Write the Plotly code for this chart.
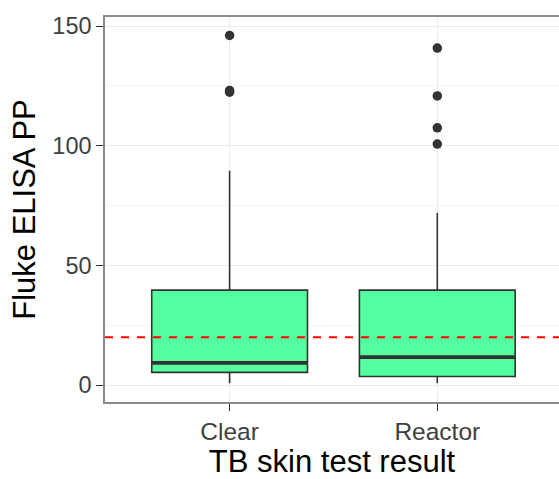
import plotly.graph_objects as go

# ---- data ----
categories = ["Clear", "Reactor"]
positions = [1, 2]
q1 = [5.3, 3.6]
median = [9.3, 11.7]
q3 = [39.7, 39.7]
lower_whisker = [0.8, 0.8]
upper_whisker = [89.6, 71.9]
outliers_clear = [146.1, 123.1, 122.4]
outliers_reactor = [140.8, 120.8, 107.5, 100.7]
threshold = 20
y_ticks = [0, 50, 100, 150]
y_minor = [25, 75, 125]

box_width = 0.75
fill = "#54FF9F"
dark = "#333333"

fig = go.Figure()

fig.add_trace(go.Box(
    x=positions, q1=q1, median=median, q3=q3,
    lowerfence=lower_whisker, upperfence=upper_whisker,
    width=box_width, whiskerwidth=0, boxpoints=False,
    fillcolor=fill, line=dict(color=dark, width=1.6),
    showlegend=False, hoverinfo="skip",
))

# thick median lines (ggplot style)
for p, m in zip(positions, median):
    fig.add_trace(go.Scatter(
        x=[p - box_width / 2, p + box_width / 2], y=[m, m],
        mode="lines", line=dict(color=dark, width=3.6),
        showlegend=False, hoverinfo="skip",
    ))

# outliers
for p, outs in zip(positions, [outliers_clear, outliers_reactor]):
    fig.add_trace(go.Scatter(
        x=[p] * len(outs), y=outs, mode="markers",
        marker=dict(color=dark, size=9.5),
        showlegend=False, hoverinfo="skip",
    ))

fig.add_hline(y=threshold, line=dict(color="#FF0000", width=1.8, dash="8px,8px"))

fig.update_layout(
    width=559, height=479,
    margin=dict(l=105, r=0, t=17, b=77),
    plot_bgcolor="white", paper_bgcolor="white",
    font=dict(family="Liberation Sans, Arial, sans-serif"),
)

fig.update_xaxes(
    range=[0.4, 2.586],
    tickvals=positions, ticktext=categories,
    tickfont=dict(size=24.5, color="#404040"),
    ticks="outside", ticklen=7, tickwidth=1.3, tickcolor=dark,
    showgrid=True, gridcolor="#EBEBEB", gridwidth=1.3,
    showline=True, linecolor="#8A8A8A", linewidth=1.5, mirror=True,
    zeroline=False,
    title=dict(text="TB skin test result", font=dict(size=31, color="black"), standoff=8),
)

fig.update_yaxes(
    range=[-7.06, 153.8],
    tickvals=y_ticks,
    tickfont=dict(size=23.5, color="#404040"),
    ticks="outside", ticklen=7, tickwidth=1.3, tickcolor=dark,
    showgrid=True, gridcolor="#EBEBEB", gridwidth=1.3,
    minor=dict(tickvals=y_minor, showgrid=True, gridcolor="#F5F5F5", gridwidth=1.0),
    showline=True, linecolor="#8A8A8A", linewidth=1.5, mirror=False,
    zeroline=False,
    title=dict(text="Fluke ELISA PP", font=dict(size=31, color="black"), standoff=7),
)

fig.write_html("out.html")
